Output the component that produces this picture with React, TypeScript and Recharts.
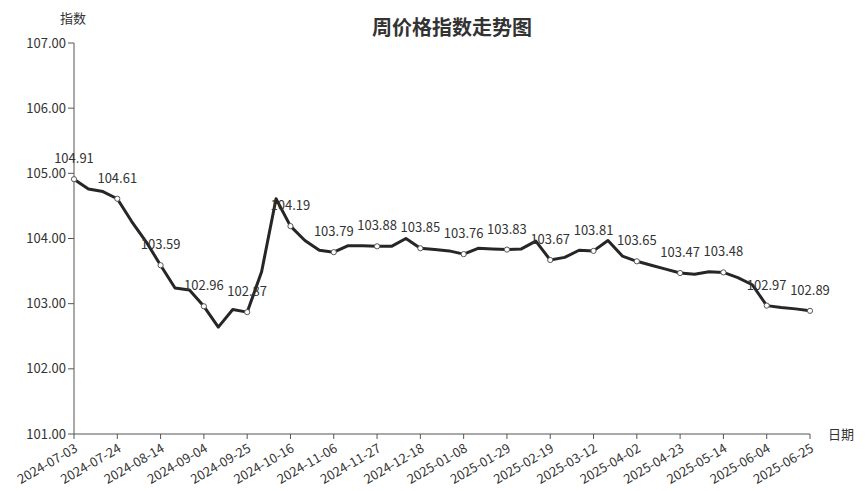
import React from "react";
import { LineChart, Line, XAxis, YAxis } from "recharts";

const dates = [
  "2024-07-03", "2024-07-10", "2024-07-17", "2024-07-24", "2024-07-31", "2024-08-07",
  "2024-08-14", "2024-08-21", "2024-08-28", "2024-09-04", "2024-09-11", "2024-09-18",
  "2024-09-25", "2024-10-02", "2024-10-09", "2024-10-16", "2024-10-23", "2024-10-30",
  "2024-11-06", "2024-11-13", "2024-11-20", "2024-11-27", "2024-12-04", "2024-12-11",
  "2024-12-18", "2024-12-25", "2025-01-01", "2025-01-08", "2025-01-15", "2025-01-22",
  "2025-01-29", "2025-02-05", "2025-02-12", "2025-02-19", "2025-02-26", "2025-03-05",
  "2025-03-12", "2025-03-19", "2025-03-26", "2025-04-02", "2025-04-09", "2025-04-16",
  "2025-04-23", "2025-04-30", "2025-05-07", "2025-05-14", "2025-05-21", "2025-05-28",
  "2025-06-04", "2025-06-11", "2025-06-18", "2025-06-25",
];

const indexValues = [
  104.91, 104.76, 104.72, 104.61, 104.26, 103.95,
  103.59, 103.24, 103.21, 102.96, 102.64, 102.91,
  102.87, 103.49, 104.61, 104.19, 103.97, 103.82,
  103.79, 103.89, 103.89, 103.88, 103.88, 104.0,
  103.85, 103.83, 103.81, 103.76, 103.85, 103.84,
  103.83, 103.84, 103.96, 103.67, 103.71, 103.82,
  103.81, 103.97, 103.73, 103.65, 103.59, 103.53,
  103.47, 103.45, 103.49, 103.48, 103.4, 103.29,
  102.97, 102.94, 102.92, 102.89,
];

const xTicks = dates.filter((_, i) => i % 3 === 0);
const yTicks = [101, 102, 103, 104, 105, 106, 107];

const FONT = '"Noto Sans CJK SC", "Noto Sans", sans-serif';

const data = dates.map((date, i) => ({ date, value: indexValues[i] }));

const renderDot = (props: any) => {
  const { cx, cy, index } = props;
  if (index % 3 !== 0) return <g key={`d-${index}`} />;
  return (
    <circle key={`d-${index}`} cx={cx} cy={cy} r={2.6} fill="#fff" stroke="#555" strokeWidth={1} />
  );
};

const renderLabel = (props: any) => {
  const { x, y, index, value } = props;
  if (index % 3 !== 0) return null;
  return (
    <text
      key={`l-${index}`}
      x={x}
      y={y - 16}
      textAnchor="middle"
      fontSize={13}
      fontFamily={FONT}
      fill="#333"
    >
      {Number(value).toFixed(2)}
    </text>
  );
};

export default function App() {
  return (
    <div style={{ position: "absolute", left: 0, top: 0, width: 865, height: 491, background: "#fff", fontFamily: FONT }}>
      <div
        style={{
          position: "absolute",
          left: 342,
          width: 220,
          top: 15,
          textAlign: "center",
          fontSize: 20,
          fontWeight: 700,
          color: "#333",
          lineHeight: "24px",
        }}
      >
        周价格指数走势图
      </div>
      <div style={{ position: "absolute", left: 60, top: 9, fontSize: 13, color: "#333", lineHeight: "18px" }}>指数</div>
      <div style={{ position: "absolute", left: 828, top: 425, fontSize: 13, color: "#333", lineHeight: "18px" }}>日期</div>
      <LineChart width={865} height={491} data={data} margin={{ top: 43, right: 55, bottom: 0, left: 0 }}>
        <XAxis
          dataKey="date"
          ticks={xTicks}
          interval={0}
          height={57}
          angle={-30}
          textAnchor="end"
          tickSize={5}
          stroke="#555"
          tick={{ fontSize: 13, fill: "#333", fontFamily: FONT, dy: 2 }}
        />
        <YAxis
          type="number"
          domain={[101, 107]}
          ticks={yTicks}
          width={74}
          tickSize={6}
          stroke="#555"
          tickFormatter={(v) => Number(v).toFixed(2)}
          tick={{ fontSize: 13, fill: "#333", fontFamily: FONT }}
        />
        <Line
          type="linear"
          dataKey="value"
          stroke="#262626"
          strokeWidth={3}
          strokeLinejoin="round"
          dot={renderDot}
          activeDot={false}
          label={renderLabel}
          isAnimationActive={false}
        />
      </LineChart>
    </div>
  );
}
